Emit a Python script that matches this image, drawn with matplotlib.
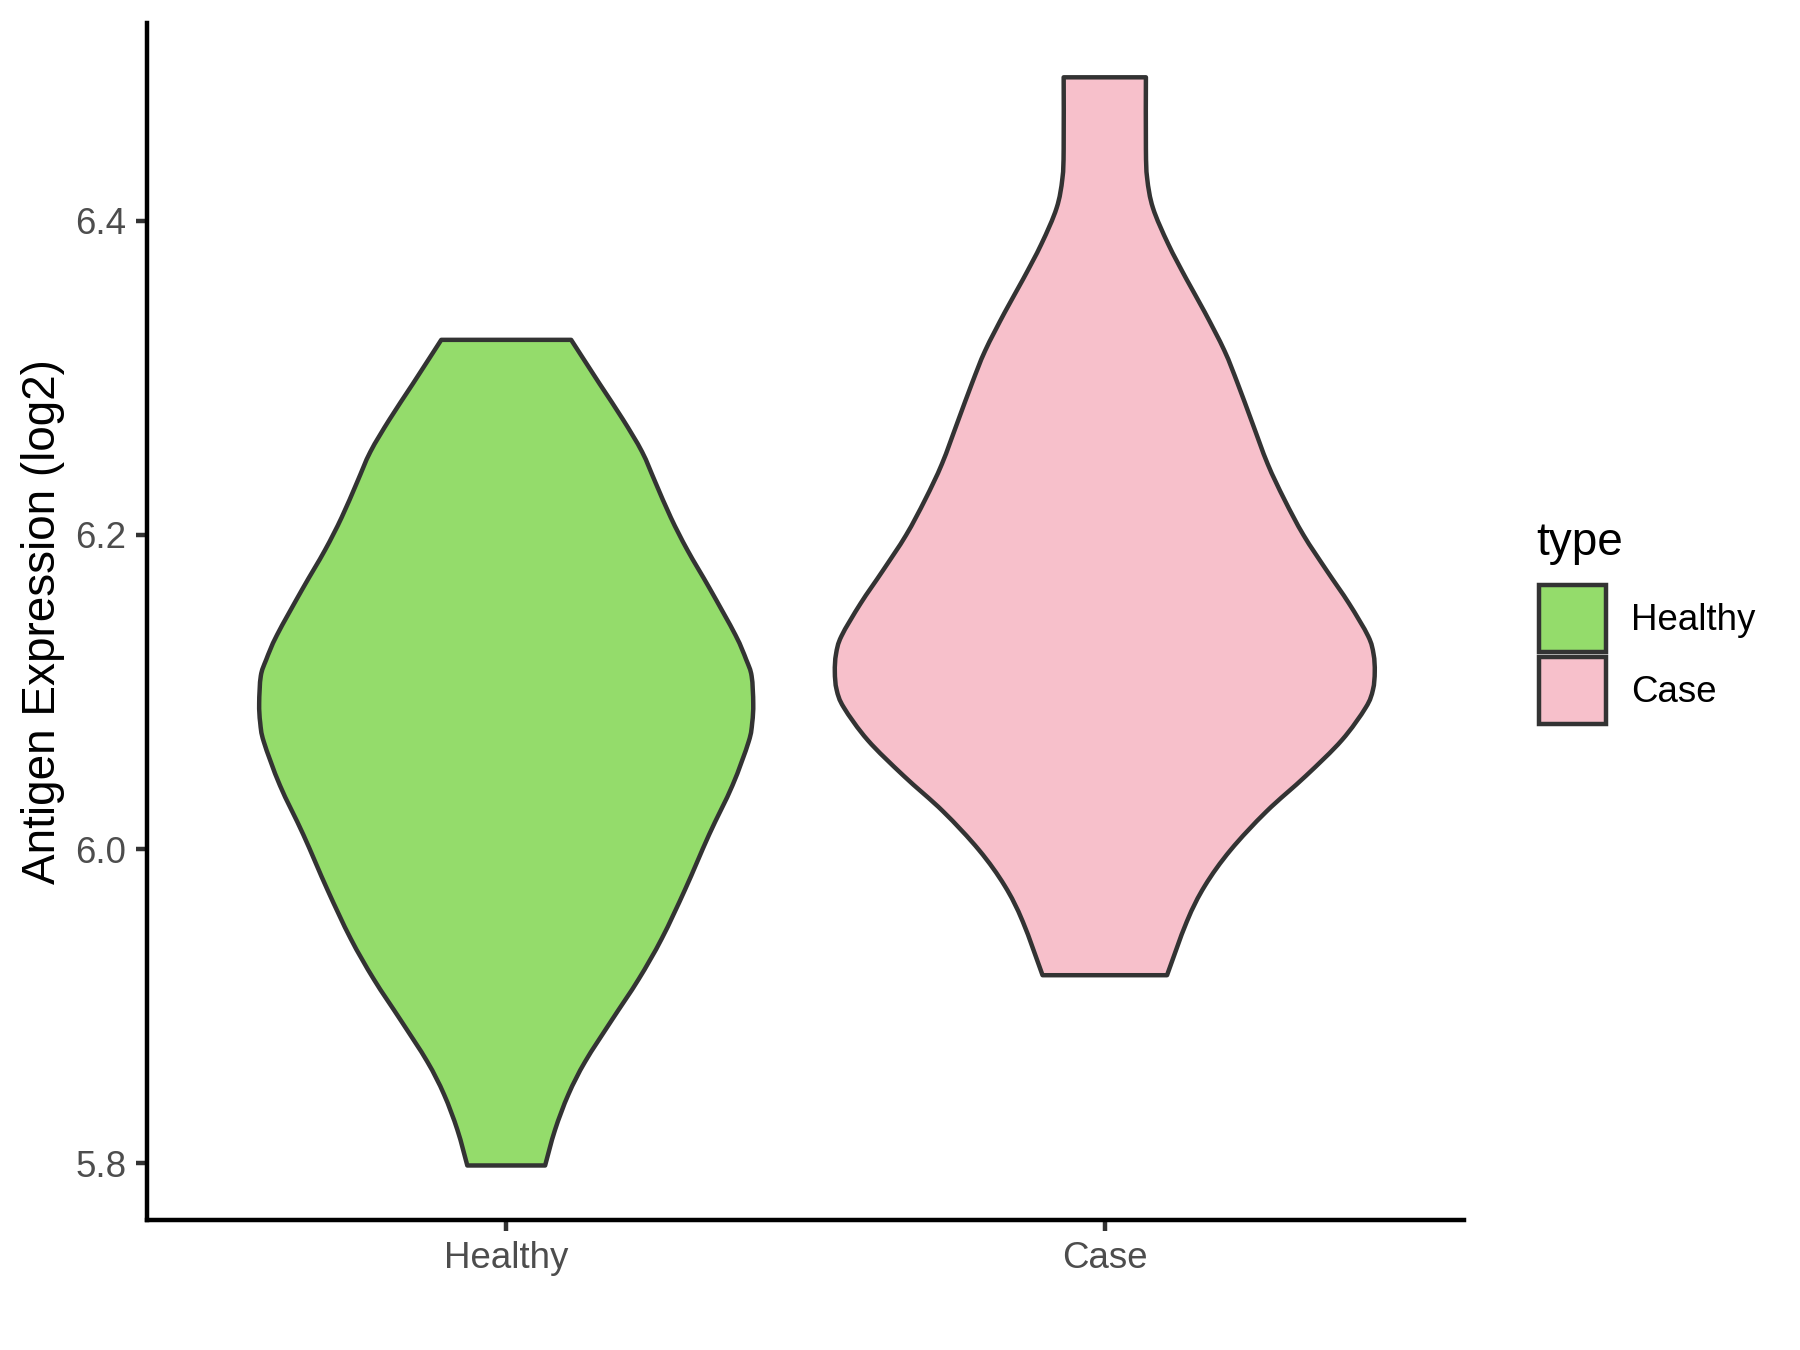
import matplotlib
matplotlib.use("Agg")
import matplotlib.pyplot as plt
from matplotlib.patches import Patch, PathPatch
from matplotlib.path import Path
import numpy as np

plt.rcParams['font.family'] = ['Liberation Sans', 'DejaVu Sans']

# ---- data (violin outlines: y value, half width) ----
categories = ["Healthy", "Case"]
colors = ["#94DC6B", "#F7C0CB"]

healthy_y = [6.3241, 6.2963, 6.2736, 6.2528, 6.2336, 6.2110, 6.1901, 6.1658, 6.1362,
             6.1205, 6.1101, 6.0927, 6.0805, 6.0683, 6.0405, 6.0092, 5.9744, 5.9431,
             5.9170, 5.8909, 5.8648, 5.8439, 5.8212, 5.7986]
healthy_hw = [0.1085, 0.1557, 0.1947, 0.227, 0.249, 0.275, 0.303, 0.340, 0.383,
              0.401, 0.410, 0.4127, 0.411, 0.405, 0.378, 0.339, 0.299, 0.260,
              0.221, 0.176, 0.132, 0.104, 0.0815, 0.065]

case_y = [6.4912, 6.4458, 6.4269, 6.4080, 6.3852, 6.3625, 6.3417, 6.3171, 6.2963,
          6.2717, 6.2452, 6.2225, 6.1998, 6.1771, 6.1563, 6.1355, 6.1241, 6.1128,
          6.1014, 6.0901, 6.0693, 6.0466, 6.0239, 5.9993, 5.9765, 5.9538, 5.9197]
case_hw = [0.0687, 0.0687, 0.0708, 0.0805, 0.1058, 0.1368, 0.167, 0.200, 0.222,
           0.246, 0.272, 0.300, 0.332, 0.371, 0.408, 0.440, 0.449, 0.451,
           0.448, 0.436, 0.396, 0.336, 0.270, 0.210, 0.167, 0.137, 0.104]

y_ticks = [5.8, 6.0, 6.2, 6.4]
y_tick_labels = ["5.8", "6.0", "6.2", "6.4"]
y_label = "Antigen Expression (log2)"
legend_title = "type"

profiles = [(healthy_y, healthy_hw), (case_y, case_hw)]


def smooth_segments(pts):
    """Cubic Bezier (Catmull-Rom) segments through the given points."""
    pts = np.asarray(pts, dtype=float)
    n = len(pts)
    verts, codes = [], []
    for i in range(n - 1):
        p0 = pts[max(i - 1, 0)]
        p1 = pts[i]
        p2 = pts[i + 1]
        p3 = pts[min(i + 2, n - 1)]
        c1 = p1 + (p2 - p0) / 6.0
        c2 = p2 - (p3 - p1) / 6.0
        verts += [tuple(c1), tuple(c2), tuple(p2)]
        codes += [Path.CURVE4] * 3
    return verts, codes


fig = plt.figure(figsize=(6, 4.5), dpi=300)
ax = fig.add_axes([0.0817, 0.0963, 0.8133 - 0.0817, 0.983 - 0.0963])

edge = "#333333"
for i, ((ys, hws), col) in enumerate(zip(profiles, colors)):
    pos = i + 1
    ys = np.asarray(ys)
    hws = np.asarray(hws)
    right = np.column_stack([pos + hws, ys])             # top -> bottom
    left = np.column_stack([pos - hws, ys])[::-1]        # bottom -> top
    verts = [tuple(left[-1]), tuple(right[0])]
    codes = [Path.MOVETO, Path.LINETO]
    v, c = smooth_segments(right)
    verts += v; codes += c
    verts.append(tuple(left[0])); codes.append(Path.LINETO)
    v, c = smooth_segments(left)
    verts += v; codes += c
    verts.append(tuple(left[-1])); codes.append(Path.CLOSEPOLY)
    patch = PathPatch(Path(verts, codes), facecolor=col, edgecolor=edge,
                      linewidth=1.07, joinstyle="round")
    ax.add_patch(patch)

ax.set_xlim(0.4, 2.6)
ax.set_ylim(5.7639, 6.5258)
ax.set_xticks([1, 2])
ax.set_xticklabels(categories)
ax.set_yticks(y_ticks)
ax.set_yticklabels(y_tick_labels)

for s in ["top", "right"]:
    ax.spines[s].set_visible(False)
for s in ["left", "bottom"]:
    ax.spines[s].set_linewidth(1.07)
    ax.spines[s].set_color("black")

ax.tick_params(axis="both", length=2.75, width=1.07, color="#333333",
               labelsize=8.8, labelcolor="#4D4D4D", pad=2.2)

ax.set_ylabel(y_label, fontsize=11, color="black")
ax.yaxis.set_label_coords(-0.062, 0.5)

handles = [Patch(facecolor=c, edgecolor=edge, linewidth=1.07) for c in colors]
leg = fig.legend(handles, categories, loc="upper left",
                 bbox_to_anchor=(0.855, 0.5667), frameon=False, fontsize=8.8,
                 handlelength=1.83, handleheight=2.44,
                 labelspacing=0.14, handletextpad=0.68, borderpad=0, borderaxespad=0)
fig.text(0.8533, 1 - 555 / 1350, legend_title, fontsize=11, va="baseline", ha="left")

fig.savefig("out.png", dpi=300)
